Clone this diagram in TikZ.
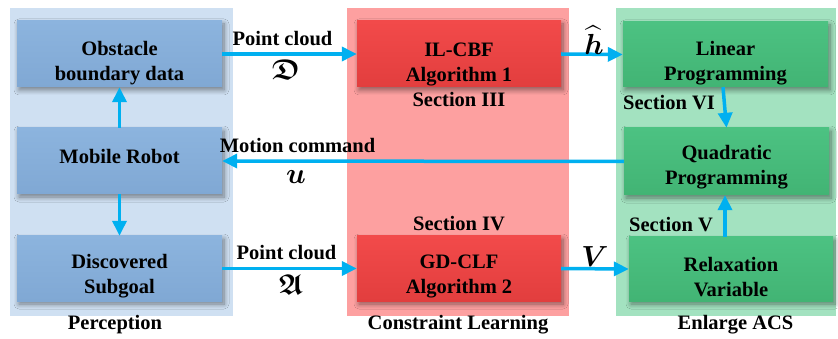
\documentclass[tikz,border=0pt]{standalone}
\usepackage{amsmath,amssymb,bm}
\usepackage{fontspec}
\setmainfont{Liberation Serif}
\usetikzlibrary{arrows.meta,shadows.blur}

\definecolor{panelblue}{RGB}{207,224,242}
\definecolor{boxblue}{RGB}{128,168,212}
\definecolor{boxbluetop}{RGB}{140,180,222}
\definecolor{panelred}{RGB}{253,160,160}
\definecolor{boxred}{RGB}{226,62,62}
\definecolor{boxredtop}{RGB}{242,74,74}
\definecolor{panelgreen}{RGB}{163,226,192}
\definecolor{boxgreen}{RGB}{66,180,116}
\definecolor{boxgreentop}{RGB}{76,194,130}
\definecolor{flow}{RGB}{0,176,240}

% enlarged bold math symbol
\newcommand{\bigsym}[1]{\scalebox{1.4}{$#1$}}

\tikzset{
  card/.style={rectangle, inner sep=0pt, draw=none,
    blur shadow={shadow xshift=2pt, shadow yshift=-3pt, shadow blur steps=8,
      shadow blur radius=5pt, shadow opacity=45}},
  bluecard/.style={card, top color=boxbluetop, bottom color=boxblue},
  redcard/.style={card, top color=boxredtop, bottom color=boxred},
  greencard/.style={card, top color=boxgreentop, bottom color=boxgreen},
  txt/.style={inner sep=0pt, align=center, text=black},
  flowarrow/.style={draw=flow, line width=3.5pt,
    -{Triangle[length=15pt,width=14pt]}, shorten >=0pt},
}

\begin{document}
\begin{tikzpicture}[x=1pt, y=-1pt, font=\fontsize{20.5}{25}\selectfont\bfseries]
  \useasboundingbox (0,0) rectangle (838,339);
  \fill[white] (0,0) rectangle (838,339);

  % stage panels
  \fill[panelblue]  (10,8)  rectangle (233,316);
  \fill[panelred]   (347,8) rectangle (569,316);
  \fill[panelgreen] (616,8) rectangle (836,316);

  % blocks
  \node[bluecard, minimum width=205pt, minimum height=66pt] (obs) at (119.5,54) {};
  \node[bluecard, minimum width=205pt, minimum height=66pt] (mob) at (119.5,161) {};
  \node[bluecard, minimum width=205pt, minimum height=65pt] (dis) at (119.5,268.5) {};
  \node[redcard, minimum width=204pt, minimum height=66pt] (cbf) at (459,54) {};
  \node[redcard, minimum width=204pt, minimum height=65pt] (clf) at (459,268.5) {};
  \node[greencard, minimum width=205pt, minimum height=65pt] (lin) at (725.5,54.5) {};
  \node[greencard, minimum width=205pt, minimum height=67pt] (quad) at (726.5,161.5) {};
  \node[greencard, minimum width=204pt, minimum height=64pt] (rel) at (731,269) {};

  % block texts
  \node[txt] (tobs)  at (119.5,63)  {Obstacle\\boundary data};
  \node[txt] (tmob)  at (119.5,156) {Mobile Robot};
  \node[txt] (tdis)  at (119.5,276) {Discovered\\Subgoal};
  \node[txt] (tcbf)  at (459,75)    {IL-CBF\\Algorithm 1\\Section III};
  \node[txt] (tsec4) at (459,224)   {Section IV};
  \node[txt] (tclf)  at (459,276)   {GD-CLF\\Algorithm 2};
  \node[txt] (tlin)  at (725.5,63)  {Linear\\Programming};
  \node[txt] (tquad) at (726.5,167) {Quadratic\\Programming};
  \node[txt] (trel)  at (731,277)   {Relaxation\\Variable};
  \node[txt] (tsec6) at (669,103)   {Section VI};
  \node[txt] (tsec5) at (671,225)   {Section V};

  % stage captions
  \node[txt] (cap1) at (115,325) {Perception};
  \node[txt] (cap2) at (458,325) {Constraint Learning};
  \node[txt] (cap3) at (735.5,325) {Enlarge ACS};

  % connectors
  \draw[flowarrow] (obs.east) -- (cbf.west);
  \draw[flowarrow] (cbf.east) -- (lin.west);
  \draw[flowarrow] (quad.west) -- (mob.east);
  \draw[flowarrow] (mob.north) -- (obs.south);
  \draw[flowarrow] (mob.south) -- (dis.north);
  \draw[flowarrow] (dis.east) -- (clf.west);
  \draw[flowarrow] (clf.east) -- (rel.west);
  \draw[flowarrow] ([xshift=-2.5pt]lin.south) -- (quad.north);
  \draw[flowarrow] ([xshift=-6pt]rel.north) -- ([xshift=-1.5pt]quad.south);

  % connector labels
  \node[txt] (l1) at (282.5,39) {Point cloud};
  \node[txt] (l2) at (286,70)   {\bigsym{\bm{\mathfrak{D}}}};
  \node[txt] (l3) at (286.5,253) {Point cloud};
  \node[txt] (l4) at (291,285) {\bigsym{\bm{\mathfrak{A}}}};
  \node[txt] (l5) at (594,40) {\bigsym{\widehat{\bm{h}}}};
  \node[txt] (l6) at (595,257)  {\bigsym{\bm{V}}};
  \node[txt] (l7) at (297.5,145) {Motion command};
  \node[txt] (l8) at (296,177)  {\bigsym{\bm{u}}};
\end{tikzpicture}
\end{document}
